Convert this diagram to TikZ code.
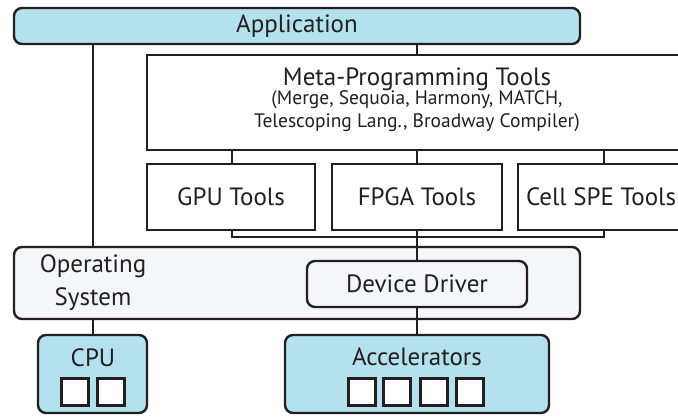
\documentclass[tikz,border=0pt]{standalone}
\usepackage{fontspec}
\setmainfont{PT Sans}
\definecolor{lblue}{RGB}{179,225,237}
\definecolor{osfill}{RGB}{243,247,249}
\definecolor{ink}{RGB}{35,31,32}
\begin{document}
\begin{tikzpicture}[x=1pt,y=-1pt,
  rbox/.style={draw=ink,line width=2.4pt,rounded corners=8pt},
  sbox/.style={draw=ink,line width=2pt,fill=white},
  conn/.style={draw=ink,line width=1.8pt},
  lbl/.style={font=\fontsize{25}{28}\selectfont,text=ink,inner sep=0pt},
  sm/.style={font=\fontsize{19.5}{23}\selectfont,text=ink,inner sep=0pt,align=center},
  sq/.style={draw=ink,line width=2.2pt,fill=white,minimum size=27pt,inner sep=0pt}]
\useasboundingbox (0,0) rectangle (678,418);
\coordinate (bl) at (232,237);
\coordinate (br) at (604,237);
\coordinate (bm) at (417,237);
% boxes
\path[rbox,fill=lblue] (14,8) rectangle (580,44);
\node[lbl] (app) at (297,26) {Application};
\draw[sbox] (147,55) rectangle (684,150);
\node[lbl] (meta) at (417,79) {Meta-Programming Tools};
\node[sm] (metas) at (417,111) {(Merge, Sequoia, Harmony, MATCH,\\Telescoping Lang., Broadway Compiler)};
\draw[sbox] (147,164) rectangle (315,230);
\draw[sbox] (332,164) rectangle (502,230);
\draw[sbox] (518,164) rectangle (684,230);
\node[lbl] (gpu) at (231,197) {GPU Tools};
\node[lbl] (fpga) at (417,197) {FPGA Tools};
\node[lbl] (cell) at (601,197) {Cell SPE Tools};
\path[rbox,fill=osfill] (14,247) rectangle (580,319);
\node[lbl,align=center,font=\fontsize{25}{33}\selectfont] (os) at (93,283) {Operating\\System};
\path[rbox,fill=osfill] (307,261) rectangle (527,307);
\node[lbl] (dd) at (417,284) {Device Driver};
\path[rbox,fill=lblue] (38,335) rectangle (147,413);
\node[lbl] (cpu) at (93,358) {CPU};
\node[sq] (c1) at (75,392) {};
\node[sq] (c2) at (111,392) {};
\path[rbox,fill=lblue] (285,335) rectangle (549,413);
\node[lbl] (acc) at (417,357) {Accelerators};
\node[sq] (a1) at (362,392) {};
\node[sq] (a2) at (397,392) {};
\node[sq] (a3) at (434,392) {};
\node[sq] (a4) at (470,392) {};
% connectors
\draw[conn] (93,45) -- (93,246);
\draw[conn] (417,45) -- (417,54);
\draw[conn] (232,151) -- (232,163);
\draw[conn] (417,151) -- (417,163);
\draw[conn] (604,151) -- (604,163);
\draw[conn] (232,231) -- (bl) -- (br) -- (604,231);
\draw[conn] (417,231) -- (417,260);
\draw[conn] (93,320) -- (93,334);
\draw[conn] (417,308) -- (417,334);
\end{tikzpicture}
\end{document}
